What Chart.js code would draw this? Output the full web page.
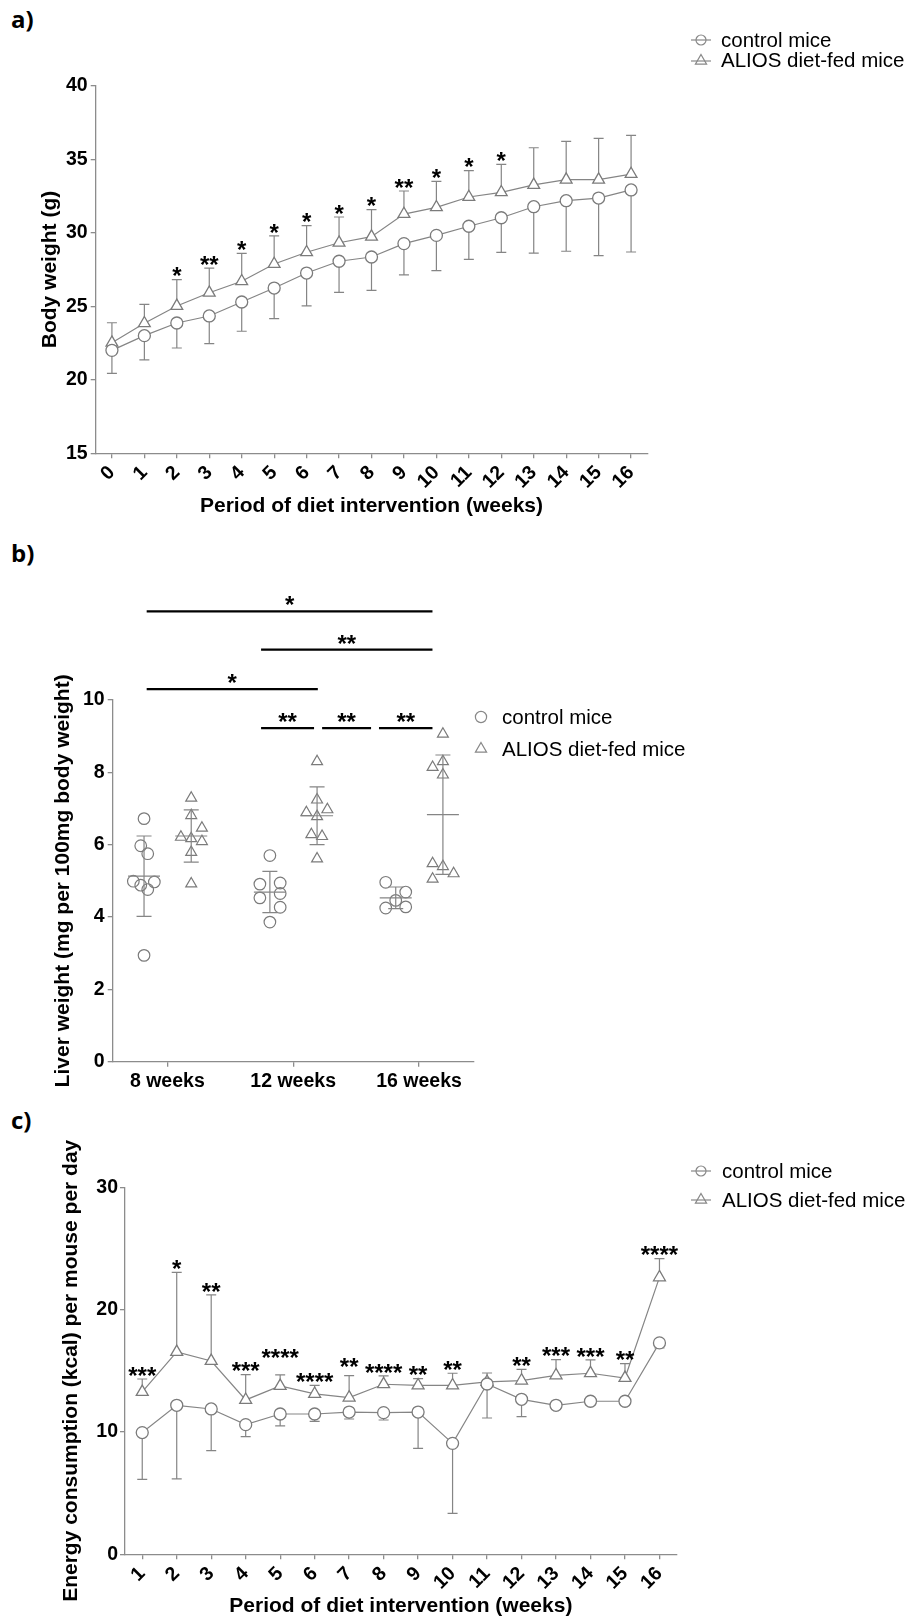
<!DOCTYPE html>
<html>
<head>
<meta charset="utf-8">
<script src="https://cdn.jsdelivr.net/npm/chart.js@4.4.1/dist/chart.umd.min.js"></script>
<style>
  body { margin: 0; background: #fff; }
  #page { position: relative; width: 910px; height: 1619px; overflow: hidden; background: #fff; font-family: "Liberation Sans", Arial, sans-serif; }
  canvas { position: absolute; left: 0; }
  .panel { position: absolute; left: 11px; font: 700 24px/24px "Open Sans", sans-serif; color: #000; }
  .leg { position: absolute; font-size: 20.5px; line-height: 24px; color: #000; white-space: nowrap; }
  .sym { position: absolute; }
</style>
</head>
<body>
<div id="page">
  <div class="panel" style="top:7px">a)</div>
  <div class="panel" style="top:541px">b)</div>
  <div class="panel" style="top:1108px">c)</div>

  <canvas id="chartA" width="910" height="530" style="top:0"></canvas>
  <canvas id="chartB" width="910" height="540" style="top:560px"></canvas>
  <canvas id="chartC" width="910" height="519" style="top:1100px"></canvas>

  <!-- legend a -->
  <svg class="sym" style="left:689px;top:32px" width="24" height="16"><line x1="2" y1="8" x2="22" y2="8" stroke="#888" stroke-width="1.2"/><circle cx="12" cy="8" r="5" fill="none" stroke="#888" stroke-width="1.2"/></svg>
  <div class="leg" style="left:721px;top:28px">control mice</div>
  <svg class="sym" style="left:689px;top:52px" width="24" height="16"><line x1="2" y1="9" x2="22" y2="9" stroke="#888" stroke-width="1.2"/><polygon points="12,2.5 17.6,12.2 6.4,12.2" fill="none" stroke="#888" stroke-width="1.2"/></svg>
  <div class="leg" style="left:721px;top:48px">ALIOS diet-fed mice</div>

  <!-- legend b -->
  <svg class="sym" style="left:472px;top:708px" width="18" height="18"><circle cx="9" cy="9" r="5.6" fill="none" stroke="#888" stroke-width="1.2"/></svg>
  <div class="leg" style="left:502px;top:705px">control mice</div>
  <svg class="sym" style="left:472px;top:740px" width="18" height="18"><polygon points="9,2.5 14.6,12.2 3.4,12.2" fill="none" stroke="#888" stroke-width="1.2"/></svg>
  <div class="leg" style="left:502px;top:737px">ALIOS diet-fed mice</div>

  <!-- legend c -->
  <svg class="sym" style="left:689px;top:1163px" width="24" height="16"><line x1="2" y1="8" x2="22" y2="8" stroke="#888" stroke-width="1.2"/><circle cx="12" cy="8" r="5" fill="none" stroke="#888" stroke-width="1.2"/></svg>
  <div class="leg" style="left:722px;top:1159px">control mice</div>
  <svg class="sym" style="left:689px;top:1191px" width="24" height="16"><line x1="2" y1="9" x2="22" y2="9" stroke="#888" stroke-width="1.2"/><polygon points="12,2.5 17.6,12.2 6.4,12.2" fill="none" stroke="#888" stroke-width="1.2"/></svg>
  <div class="leg" style="left:722px;top:1188px">ALIOS diet-fed mice</div>
</div>

<script>
// ---- a) body weight, mean +/- SD per week ----
const weeksA = ['0', '1', '2', '3', '4', '5', '6', '7', '8', '9', '10', '11', '12', '13', '14', '15', '16'];
const controlWeight = [22.0, 23.0, 23.86, 24.34, 25.29, 26.24, 27.26, 28.06, 28.35, 29.26, 29.82, 30.44, 31.02, 31.77, 32.18, 32.36, 32.91];
const controlWeightSd = [1.56, 1.65, 1.70, 1.88, 1.99, 2.08, 2.24, 2.11, 2.27, 2.13, 2.40, 2.25, 2.35, 3.15, 3.44, 3.92, 4.22];
const aliosWeight = [22.52, 23.84, 25.02, 25.92, 26.70, 27.87, 28.67, 29.32, 29.73, 31.27, 31.73, 32.43, 32.75, 33.25, 33.61, 33.61, 33.99];
const aliosWeightSd = [1.36, 1.29, 1.79, 1.68, 1.90, 1.91, 1.81, 1.75, 1.84, 1.57, 1.77, 1.79, 1.90, 2.53, 2.60, 2.81, 2.63];
const starsA = ['', '', '*', '**', '*', '*', '*', '*', '*', '**', '*', '*', '*', '', '', '', ''];

// ---- b) liver weight, individual mice + mean/SD ----
const groupsB = ['8 weeks', '12 weeks', '16 weeks'];
const controlLiver = [
  [6.72, 5.97, 5.75, 4.99, 4.97, 4.88, 4.76, 2.94],
  [5.70, 4.91, 4.94, 4.53, 4.65, 4.27, 3.86],
  [4.96, 4.69, 4.46, 4.25, 4.28]
];
const aliosLiver = [
  [7.29, 6.81, 6.46, 6.21, 6.17, 6.09, 5.79, 4.92],
  [8.30, 7.24, 6.89, 6.97, 6.78, 6.28, 6.23, 5.61],
  [9.06, 8.30, 8.14, 7.93, 5.48, 5.40, 5.20, 5.05]
];
const controlLiverMean = [5.13, 4.69, 4.53];
const controlLiverSd = [1.11, 0.57, 0.30];
const aliosLiverMean = [6.24, 6.80, 6.83];
const aliosLiverSd = [0.72, 0.80, 1.65];
// significance bars: ends in group units, level in y units
const bracketsB = [
  { from: -0.164, to: 2.107, level: 12.45, text: '*' },
  { from: 0.745, to: 2.107, level: 11.39, text: '**' },
  { from: -0.164, to: 1.196, level: 10.30, text: '*' },
  { from: 0.745, to: 1.166, level: 9.22, text: '**' },
  { from: 1.230, to: 1.619, level: 9.22, text: '**' },
  { from: 1.682, to: 2.107, level: 9.22, text: '**' }
];

// ---- c) energy consumption ----
const weeksC = ['1', '2', '3', '4', '5', '6', '7', '8', '9', '10', '11', '12', '13', '14', '15', '16'];
const controlEnergy = [9.95, 12.18, 11.88, 10.60, 11.47, 11.47, 11.63, 11.58, 11.63, 9.07, 13.92, 12.67, 12.18, 12.51, 12.51, 17.28];
const controlEnergySd = [3.82, 6.02, 3.41, 0.98, 0.98, 0.60, 0.57, 0.60, 2.97, 5.72, 2.78, 1.42, 0.3, 0.3, 0.3, 0.4];
const aliosEnergy = [13.27, 16.54, 15.80, 12.62, 13.76, 13.11, 12.81, 13.90, 13.81, 13.81, 14.09, 14.20, 14.63, 14.80, 14.41, 22.64];
const aliosEnergySd = [1.06, 6.51, 5.40, 2.07, 0.90, 0.70, 1.79, 0.68, 0.55, 0.99, 0.73, 0.92, 1.28, 1.09, 1.18, 1.53];
const starsC = ['***', '*', '**', '***', '****', '****', '**', '****', '**', '**', '', '**', '***', '***', '**', '****'];

// ---- styling ----
Chart.defaults.font.family = '"Liberation Sans", Arial, sans-serif';
Chart.defaults.color = '#000';
Chart.defaults.animation = false;

const LINE = '#858585';
const MARK = '#7b7b7b';
const AXIS = '#8c8c8c';
const TICK_FONT = { size: 19.5, weight: 'bold' };
const TITLE_FONT = { size: 21, weight: 'bold' };
const STAR_FONT = 'bold 24px "Liberation Sans", Arial, sans-serif';

function yAxis(min, max, step, title, width, titleX, pad) {
  return {
    min: min, max: max,
    afterFit: s => { s.width = width; },
    ticks: { stepSize: step, padding: pad, font: TICK_FONT, color: '#000' },
    grid: { drawOnChartArea: false, color: AXIS, lineWidth: 1.3, tickLength: 5 },
    border: { color: AXIS, width: 1.3 },
    title: { display: true, text: title, font: TITLE_FONT, color: '#000', padding: { top: titleX - 12.6, bottom: 0 } }
  };
}

function weekAxis(height, title, titlePad) {
  return {
    type: 'category',
    offset: true,
    afterFit: s => { s.height = height; },
    ticks: { autoSkip: false, minRotation: 45, maxRotation: 45, padding: 3, font: TICK_FONT, color: '#000' },
    grid: { drawOnChartArea: false, offset: false, color: AXIS, lineWidth: 1.3, tickLength: 5 },
    border: { color: AXIS, width: 1.3 },
    title: { display: true, text: title, font: TITLE_FONT, color: '#000', padding: { top: 0, bottom: titlePad } }
  };
}

function lineSet(label, data, shape, r) {
  return {
    label: label, data: data,
    borderColor: LINE, borderWidth: 1.2, tension: 0, fill: false,
    pointStyle: shape, pointRadius: r, pointHoverRadius: r,
    pointBorderColor: MARK, pointBackgroundColor: '#fff', pointBorderWidth: 1.3
  };
}

// one-sided error bars, drawn under the points
const errorBars = {
  id: 'errorBars',
  beforeDatasetsDraw(chart, args, o) {
    if (!o.sets) return;
    const ctx = chart.ctx, ys = chart.scales.y;
    ctx.save();
    ctx.strokeStyle = LINE;
    ctx.lineWidth = 1.2;
    o.sets.forEach(set => {
      const meta = chart.getDatasetMeta(set.index);
      const vals = chart.data.datasets[set.index].data;
      meta.data.forEach((pt, i) => {
        const end = ys.getPixelForValue(vals[i] + set.dir * set.sd[i]);
        ctx.beginPath();
        ctx.moveTo(pt.x, pt.y); ctx.lineTo(pt.x, end);
        ctx.moveTo(pt.x - 5, end); ctx.lineTo(pt.x + 5, end);
        ctx.stroke();
      });
    });
    ctx.restore();
  }
};

// significance stars above the upper error bar
const starLabels = {
  id: 'starLabels',
  afterDatasetsDraw(chart, args, o) {
    if (!o.labels) return;
    const ctx = chart.ctx, ys = chart.scales.y;
    const meta = chart.getDatasetMeta(o.index);
    const vals = chart.data.datasets[o.index].data;
    ctx.save();
    ctx.font = STAR_FONT;
    ctx.fillStyle = '#000';
    ctx.textAlign = 'center';
    ctx.textBaseline = 'alphabetic';
    o.labels.forEach((t, i) => {
      if (!t) return;
      const top = ys.getPixelForValue(vals[i] + o.sd[i]);
      const cy = top - o.gap - ((o.lift && o.lift[i]) || 0);
      ctx.fillText(t, meta.data[i].x, cy + 13.8);
    });
    ctx.restore();
  }
};

// mean line and SD whiskers for the dot plot
const meanSd = {
  id: 'meanSd',
  afterDatasetsDraw(chart, args, o) {
    if (!o.series) return;
    const ctx = chart.ctx, xs = chart.scales.x, ys = chart.scales.y;
    ctx.save();
    ctx.strokeStyle = LINE;
    ctx.lineWidth = 1.2;
    o.series.forEach(s => s.mean.forEach((m, g) => {
      const cx = xs.getPixelForValue(g + s.shift);
      const mid = ys.getPixelForValue(m);
      const hi = ys.getPixelForValue(m + s.sd[g]);
      const lo = ys.getPixelForValue(m - s.sd[g]);
      ctx.beginPath();
      ctx.moveTo(cx - 16, mid); ctx.lineTo(cx + 16, mid);
      ctx.moveTo(cx, hi); ctx.lineTo(cx, lo);
      ctx.moveTo(cx - 7.5, hi); ctx.lineTo(cx + 7.5, hi);
      ctx.moveTo(cx - 7.5, lo); ctx.lineTo(cx + 7.5, lo);
      ctx.stroke();
    }));
    ctx.restore();
  }
};

// comparison bars with stars
const brackets = {
  id: 'brackets',
  afterDraw(chart, args, o) {
    if (!o.items) return;
    const ctx = chart.ctx, xs = chart.scales.x, ys = chart.scales.y;
    ctx.save();
    ctx.strokeStyle = '#000';
    ctx.lineWidth = 2.3;
    ctx.fillStyle = '#000';
    ctx.font = STAR_FONT;
    ctx.textAlign = 'center';
    ctx.textBaseline = 'alphabetic';
    o.items.forEach(b => {
      const x1 = xs.getPixelForValue(b.from), x2 = xs.getPixelForValue(b.to);
      const y = ys.getPixelForValue(b.level);
      ctx.beginPath();
      ctx.moveTo(x1, y); ctx.lineTo(x2, y);
      ctx.stroke();
      ctx.fillText(b.text, (x1 + x2) / 2, y - 11.7 + 13.8);
    });
    ctx.restore();
  }
};

Chart.register(errorBars, starLabels, meanSd, brackets);

// ---- chart a ----
new Chart(document.getElementById('chartA'), {
  type: 'line',
  data: {
    labels: weeksA,
    datasets: [
      lineSet('control mice', controlWeight, 'circle', 6),
      lineSet('ALIOS diet-fed mice', aliosWeight, 'triangle', 6.8)
    ]
  },
  options: {
    responsive: false,
    layout: { padding: { top: 85.7, right: 262.7, bottom: 0, left: 0 } },
    scales: {
      x: weekAxis(76.7, 'Period of diet intervention (weeks)', 10.7),
      y: yAxis(15, 40, 5, 'Body weight (g)', 95.7, 50, 3)
    },
    plugins: {
      legend: { display: false },
      tooltip: { enabled: false },
      errorBars: { sets: [{ index: 0, sd: controlWeightSd, dir: -1 }, { index: 1, sd: aliosWeightSd, dir: 1 }] },
      starLabels: { index: 1, sd: aliosWeightSd, labels: starsA, gap: 9 }
    }
  }
});

// ---- chart b ----
const PX_PER_GROUP = 125.8;
const shiftB = [-0.185, 0.19];
const jitterControlB = [[0, -3.3, 3.7, -10.7, 10.3, -3.3, 3.7, 0], [0, -10, 10.3, -10, 10.3, 10.3, 0], [-10, 10, 0, -10, 10]];
const jitterAliosB = [[0, 0, 10.7, -10.3, 0, 10.7, 0, 0], [0, 0, -10.7, 10.3, 0, -5.7, 5, 0], [0, 0, -10.3, 0, -10.3, 0, 10.7, -10.3]];

function dotPoints(groups, jitter, shift) {
  const pts = [];
  groups.forEach((vals, g) => vals.forEach((v, k) => {
    pts.push({ x: g + shift + jitter[g][k] / PX_PER_GROUP, y: v });
  }));
  return pts;
}

new Chart(document.getElementById('chartB'), {
  type: 'scatter',
  data: {
    datasets: [
      { label: 'control mice', data: dotPoints(controlLiver, jitterControlB, shiftB[0]), pointStyle: 'circle', pointRadius: 5.8,
        pointBorderColor: MARK, pointBackgroundColor: 'rgba(0,0,0,0)', pointBorderWidth: 1.2 },
      { label: 'ALIOS diet-fed mice', data: dotPoints(aliosLiver, jitterAliosB, shiftB[1]), pointStyle: 'triangle', pointRadius: 6.3,
        pointBorderColor: MARK, pointBackgroundColor: 'rgba(0,0,0,0)', pointBorderWidth: 1.2 }
    ]
  },
  options: {
    responsive: false,
    layout: { padding: { top: 140, right: 436, bottom: 0, left: 0 } },
    scales: {
      x: {
        type: 'linear', min: -0.434, max: 2.437,
        afterFit: s => { s.height = 38.3; },
        afterBuildTicks: s => { s.ticks = groupsB.map((g, i) => ({ value: i })); },
        ticks: { autoSkip: false, minRotation: 0, maxRotation: 0, padding: 3.3, font: TICK_FONT, color: '#000',
          callback: v => groupsB[v] },
        grid: { drawOnChartArea: false, color: AXIS, lineWidth: 1.3, tickLength: 5 },
        border: { color: AXIS, width: 1.3 }
      },
      y: yAxis(0, 10, 2, 'Liver weight (mg per 100mg body weight)', 112.7, 63.3, 3)
    },
    plugins: {
      legend: { display: false },
      tooltip: { enabled: false },
      meanSd: { series: [{ mean: controlLiverMean, sd: controlLiverSd, shift: shiftB[0] }, { mean: aliosLiverMean, sd: aliosLiverSd, shift: shiftB[1] }] },
      brackets: { items: bracketsB }
    }
  }
});

// ---- chart c ----
new Chart(document.getElementById('chartC'), {
  type: 'line',
  data: {
    labels: weeksC,
    datasets: [
      lineSet('control mice', controlEnergy, 'circle', 6),
      lineSet('ALIOS diet-fed mice', aliosEnergy, 'triangle', 6.9)
    ]
  },
  options: {
    responsive: false,
    layout: { padding: { top: 87.3, right: 233.3, bottom: 0, left: 0 } },
    scales: {
      x: weekAxis(64.7, 'Period of diet intervention (weeks)', 0),
      y: yAxis(0, 30, 10, 'Energy consumption (kcal) per mouse per day', 125, 71.7, 2)
    },
    plugins: {
      legend: { display: false },
      tooltip: { enabled: false },
      errorBars: { sets: [{ index: 0, sd: controlEnergySd, dir: -1 }, { index: 1, sd: aliosEnergySd, dir: 1 }] },
      starLabels: { index: 1, sd: aliosEnergySd, labels: starsC, gap: 9, lift: { 4: 14, 6: 5 } }
    }
  }
});
</script>
</body>
</html>
